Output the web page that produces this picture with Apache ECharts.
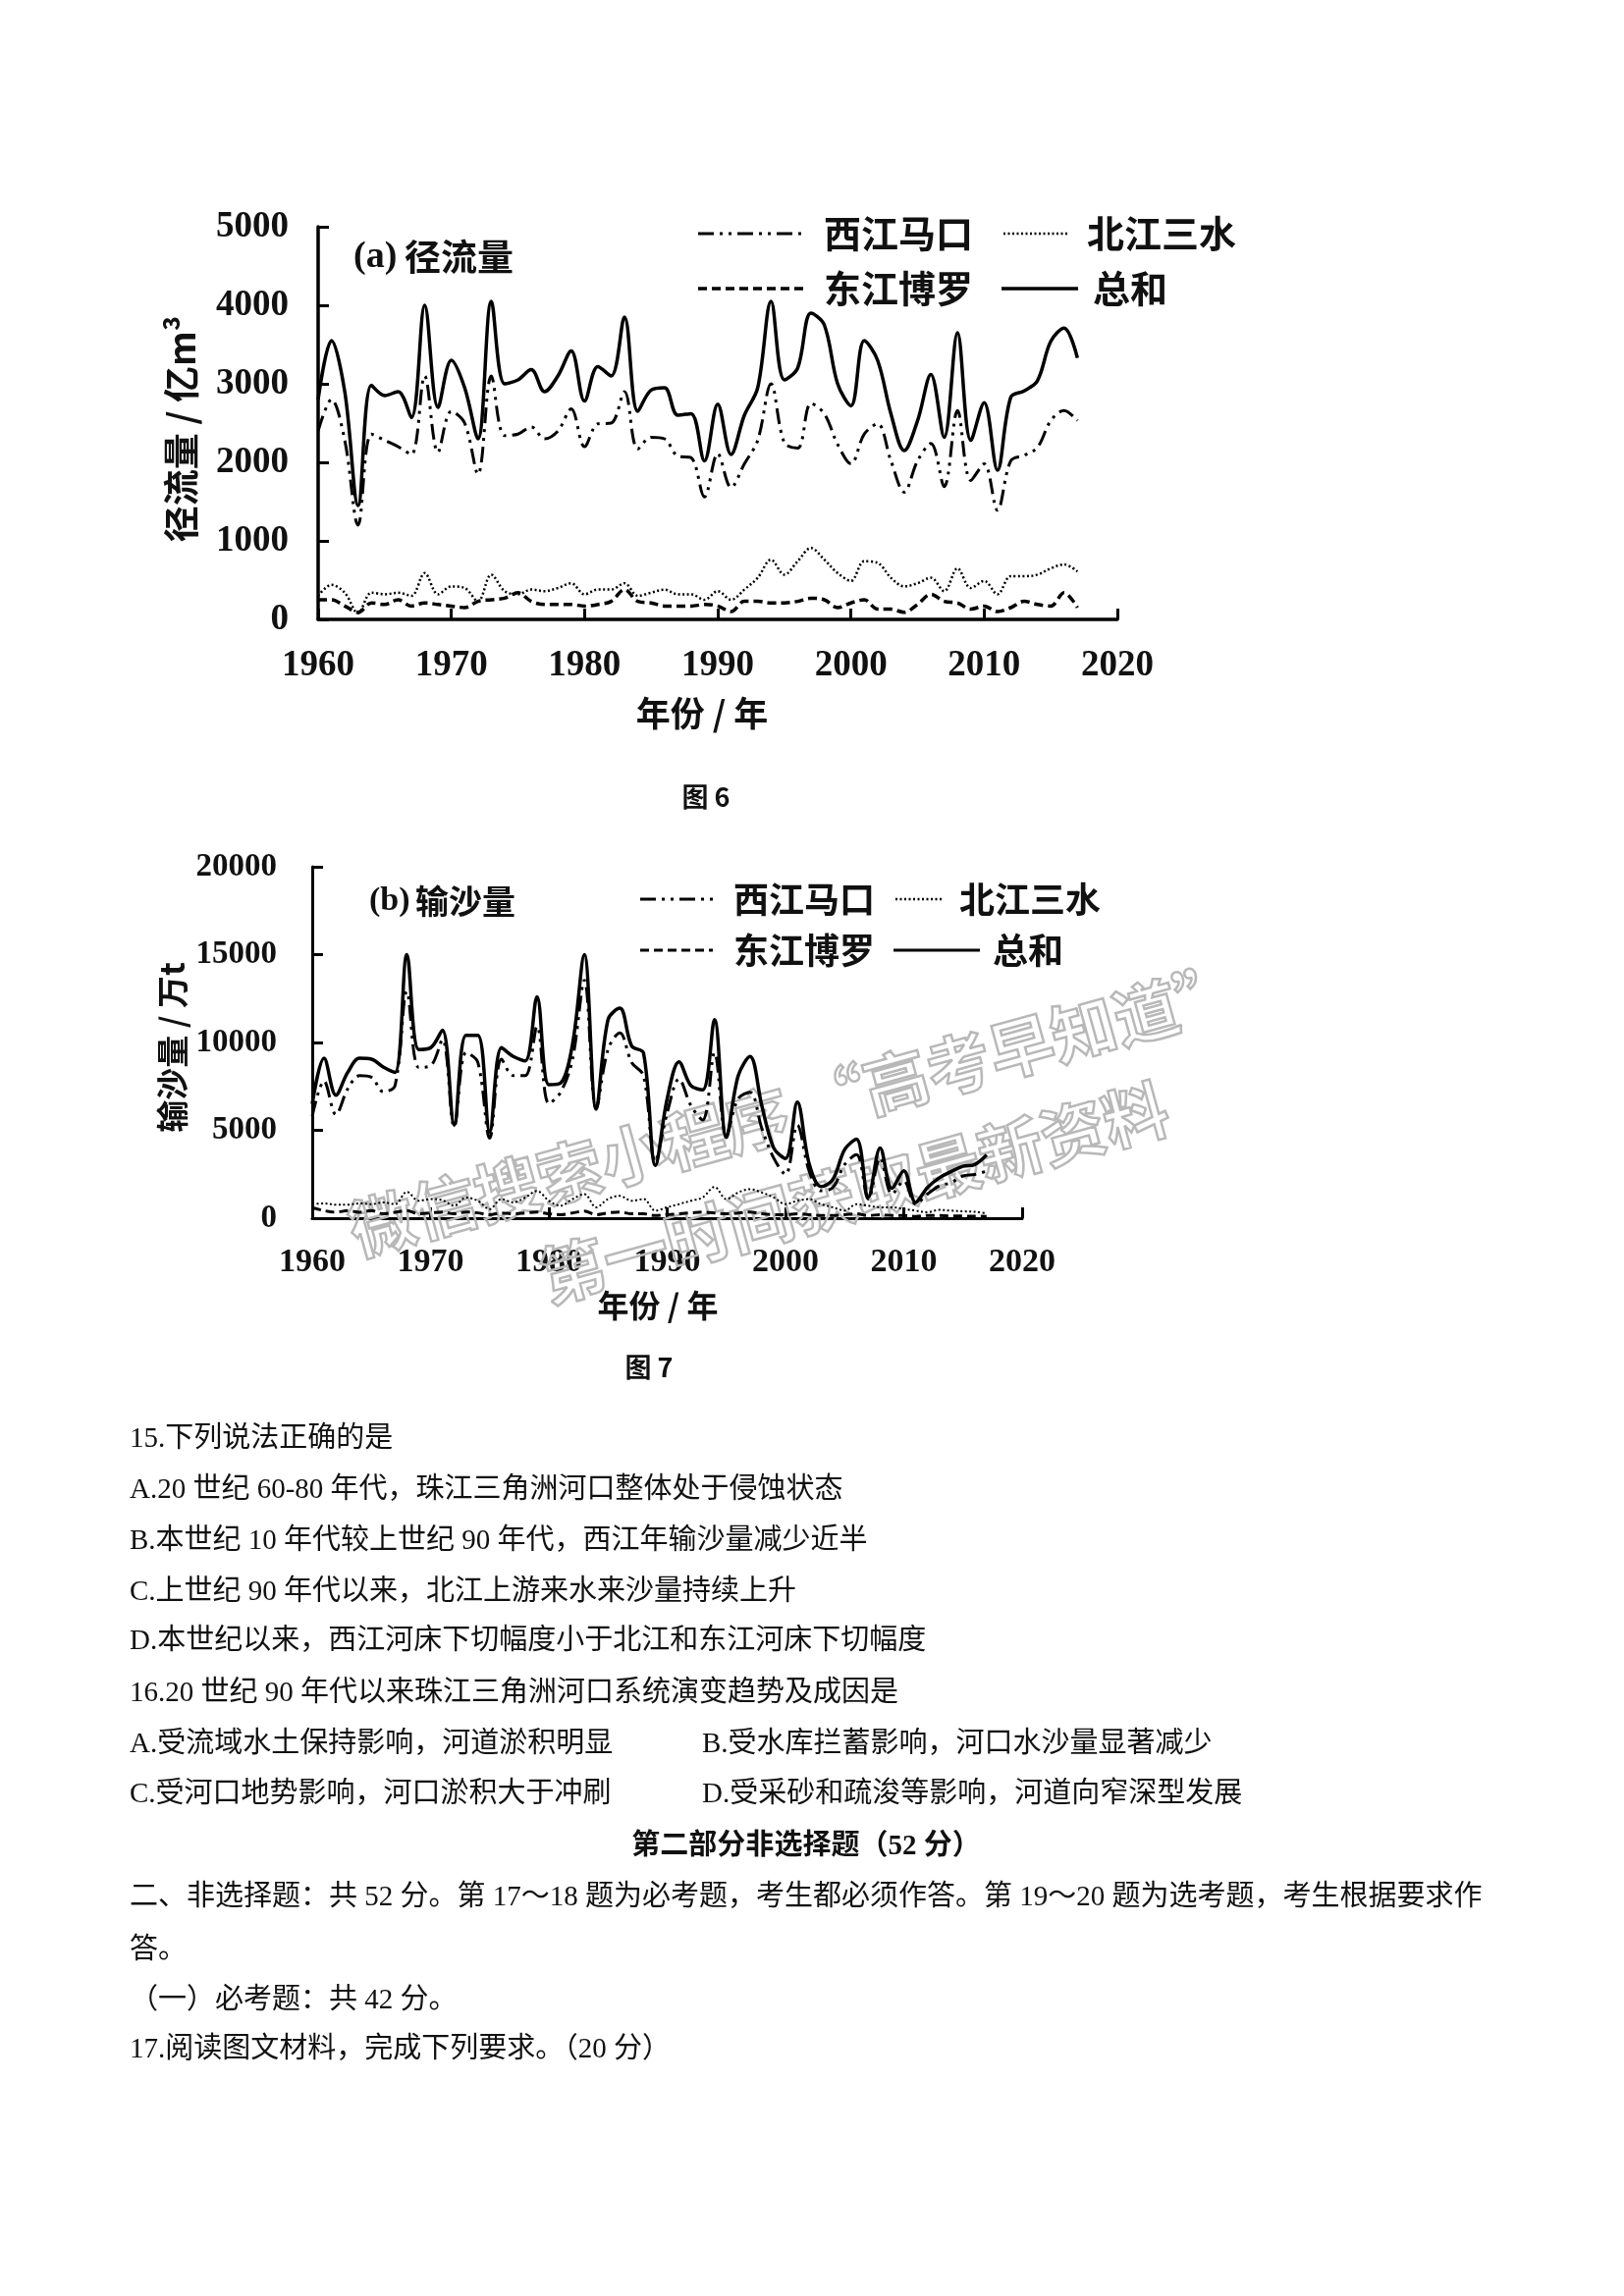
<!DOCTYPE html>
<html>
<head>
<meta charset="utf-8">
<script src="https://cdn.jsdelivr.net/npm/echarts@6/dist/echarts.min.js"></script>
<style>
html,body{margin:0;padding:0;background:#fff;}
#c{width:1654px;height:2339px;}
</style>
</head>
<body>
<div id="c"></div>
<script>
// ---------- DATA ----------
var years = [1960,1961,1962,1963,1964,1965,1966,1967,1968,1969,
             1970,1971,1972,1973,1974,1975,1976,1977,1978,1979,
             1980,1981,1982,1983,1984,1985,1986,1987,1988,1989,
             1990,1991,1992,1993,1994,1995,1996,1997,1998,1999,
             2000,2001,2002,2003,2004,2005,2006,2007,2008,2009,
             2010,2011,2012,2013,2014,2015,2016,2017];

// (a) runoff, 亿m3
var runoffTotal = [2800,3550,2900,1450,2980,2850,2900,2570,4000,2700,
                   3300,2950,2300,4050,3000,3050,3180,2900,3100,3420,
                   2780,3220,3100,3850,2650,2920,2950,2600,2620,2020,
                   2740,2100,2600,2950,4050,3050,3200,3900,3750,3000,
                   2720,3550,3300,2620,2150,2530,3120,2320,3650,2280,
                   2760,1900,2830,2910,3040,3540,3710,3330];
var runoffXi = [2400,2800,2280,1200,2360,2280,2200,2100,3100,2130,
                2650,2500,1850,3100,2340,2360,2450,2300,2400,2680,
                2200,2490,2500,2900,2170,2320,2300,2080,2060,1560,
                2110,1680,1980,2280,3000,2250,2180,2750,2620,2230,
                1980,2360,2490,2020,1620,2020,2240,1690,2660,1770,
                1980,1390,2020,2090,2190,2530,2660,2530];
var runoffBei = [300,440,340,80,340,320,340,300,590,320,
                 420,400,230,570,360,320,380,360,400,460,
                 320,380,380,460,300,340,380,320,320,250,
                 360,250,380,530,760,570,740,910,760,590,
                 490,740,720,530,420,460,530,360,650,400,
                 490,320,550,550,570,650,700,610];
var runoffDong = [250,250,170,90,210,190,250,170,210,190,
                  170,150,230,250,270,340,230,190,190,190,
                  170,190,230,380,230,210,170,170,170,190,
                  170,100,230,230,210,210,230,270,250,150,
                  210,250,130,130,90,190,320,230,210,130,
                  170,100,150,230,190,170,340,150];

// (b) sediment, 万t
var sedTotal = [6500,9100,7000,8300,9100,9050,8600,8300,15000,9600,
                9700,10700,5300,10400,10400,4900,9700,9200,8950,12600,
                7600,7700,9900,15000,6200,11300,11950,9800,9400,3000,
                6800,8900,7550,7300,11300,4600,8100,9200,6400,4000,
                3400,6600,3100,1800,2200,3900,4500,1200,4000,1700,
                2700,900,1750,2300,2650,2950,3050,3600];
var sedXi = [5800,7800,5900,7360,8110,8020,7200,7550,12900,8580,
             8670,10170,5200,9420,8860,4550,9050,8110,8110,10920,
             6520,7170,9050,13540,6240,9610,10550,8860,8110,3240,
             6000,7920,6420,5580,9420,4740,6800,7170,5110,3430,
             2490,5300,2680,1560,1740,3050,3620,1090,3430,1370,
             2120,800,1370,1840,2020,2400,2490,2680];
var sedBei = [800,840,770,770,840,800,900,800,1500,990,
              1090,1030,710,1180,990,520,1090,900,1180,1550,
              990,710,1090,1370,620,1090,1270,990,1090,430,
              620,800,990,1180,1780,1090,1460,1650,1460,1180,
              800,990,1090,800,620,430,800,710,620,620,
              520,430,340,470,430,390,360,280];
var sedDong = [600,430,340,430,340,430,250,340,430,250,
               300,350,250,350,300,200,300,250,300,350,
               250,200,300,400,200,300,350,250,250,150,
               200,250,300,350,300,250,300,350,250,200,
               200,250,200,150,150,200,250,150,200,150,
               150,100,150,150,120,120,110,100];

var seriesNames = ['西江马口','北江三水','东江博罗','总和'];
var xTicksA = [1960,2020,10];
var yTicksA = [0,5000,1000];
var yTicksB = [0,20000,5000];

var questionLines = [
  '15.下列说法正确的是',
  'A.20 世纪 60-80 年代，珠江三角洲河口整体处于侵蚀状态',
  'B.本世纪 10 年代较上世纪 90 年代，西江年输沙量减少近半',
  'C.上世纪 90 年代以来，北江上游来水来沙量持续上升',
  'D.本世纪以来，西江河床下切幅度小于北江和东江河床下切幅度',
  '16.20 世纪 90 年代以来珠江三角洲河口系统演变趋势及成因是'
];
var q16Left = ['A.受流域水土保持影响，河道淤积明显','C.受河口地势影响，河口淤积大于冲刷'];
var q16Right = ['B.受水库拦蓄影响，河口水沙量显著减少','D.受采砂和疏浚等影响，河道向窄深型发展'];
var heading = '第二部分非选择题（52 分）';
var tailLines = [
  '二、非选择题：共 52 分。第 17～18 题为必考题，考生都必须作答。第 19～20 题为选考题，考生根据要求作',
  '答。',
  '（一）必考题：共 42 分。',
  '17.阅读图文材料，完成下列要求。（20 分）'
];

// ---------- STYLE ----------
var SERIF = '"Liberation Serif","Times New Roman",serif';
var SANS = '"Noto Sans CJK SC","Noto Sans",sans-serif';
var BODY = '"Liberation Serif","Noto Sans CJK SC",serif';
var dashXi = [16,6,3,6,3,6];
var dashBei = [2,2.5];
var dashDong = [9,5];

function pairs(vals){ return years.map(function(y,i){ return [y, vals[i]]; }); }
function plain(v){ return String(v); }

function mkSeries(gi, vals, name, dash, w){
  return {
    name: name, type: 'line', xAxisIndex: gi, yAxisIndex: gi,
    data: pairs(vals), symbol: 'none', smooth: 0.35,
    lineStyle: {color: '#000', width: w, type: dash || 'solid'},
    z: 3
  };
}

function xAxisCfg(gi, fs, margin, aw){
  return {
    gridIndex: gi, type: 'value', min: xTicksA[0], max: xTicksA[1], interval: xTicksA[2],
    axisLine: {show: true, onZero: false, lineStyle: {color: '#000', width: aw}},
    axisTick: {show: true, inside: true, length: 11, lineStyle: {color: '#000', width: 3}},
    axisLabel: {color: '#111', fontFamily: SERIF, fontWeight: 'bold', fontSize: fs, margin: margin, formatter: plain},
    splitLine: {show: false}
  };
}
function yAxisCfg(gi, t, fs, margin, aw){
  return {
    gridIndex: gi, type: 'value', min: t[0], max: t[1], interval: t[2],
    axisLine: {show: true, lineStyle: {color: '#000', width: aw}},
    axisTick: {show: true, inside: true, length: 11, lineStyle: {color: '#000', width: 3}},
    axisLabel: {color: '#111', fontFamily: SERIF, fontWeight: 'bold', fontSize: fs, margin: margin, formatter: plain},
    splitLine: {show: false}
  };
}

function T(x, y, text, size, opts){
  opts = opts || {};
  return {
    type: 'text', x: x, y: y, rotation: opts.rot || 0, z: opts.z || 10,
    style: {
      text: text, fill: opts.fill || '#111',
      fontSize: size, fontFamily: opts.family || SANS, fontWeight: opts.weight || 'normal',
      textAlign: opts.align || 'left', textVerticalAlign: opts.valign || 'middle',
      stroke: opts.stroke, lineWidth: opts.lw
    }
  };
}
function L(x1, x2, y, dash, w){
  return {type: 'line', z: 10, shape: {x1: x1, y1: y, x2: x2, y2: y},
          style: {stroke: '#000', lineWidth: w, lineDash: dash}};
}

var g = [];
// ---- Figure (a) annotations ----
g.push(T(360, 262, '(a)', 38, {family: SERIF, weight: 'bold'}));
g.push(T(412, 262, '径流量', 37, {weight: 'bold'}));
g.push(L(711, 819, 238, dashXi, 3));
g.push(T(839, 238, seriesNames[0], 38, {weight: 'bold'}));
g.push(L(1022, 1087, 238, dashBei, 2.5));
g.push(T(1107, 238, seriesNames[1], 38, {weight: 'bold'}));
g.push(L(711, 819, 294, dashDong, 3.5));
g.push(T(839, 294, seriesNames[2], 38, {weight: 'bold'}));
g.push(L(1020, 1098, 294, null, 3.5));
g.push(T(1113, 294, seriesNames[3], 38, {weight: 'bold'}));
g.push(T(185, 437, '径流量 / 亿m³', 37, {weight: 'bold', rot: Math.PI/2, align: 'center'}));
g.push(T(715, 727, '年份 / 年', 35, {weight: 'bold', align: 'center'}));
g.push(T(719, 812, '图 6', 27, {weight: 'bold', align: 'center'}));

// ---- Figure (b) annotations ----
g.push(T(376, 918, '(b)', 34, {family: SERIF, weight: 'bold'}));
g.push(T(423, 918, '输沙量', 34, {weight: 'bold'}));
g.push(L(652, 726, 916, dashXi, 3));
g.push(T(747, 916, seriesNames[0], 36, {weight: 'bold'}));
g.push(L(912, 960, 916, dashBei, 2.5));
g.push(T(977, 916, seriesNames[1], 36, {weight: 'bold'}));
g.push(L(652, 726, 968, dashDong, 3));
g.push(T(747, 968, seriesNames[2], 36, {weight: 'bold'}));
g.push(L(910, 998, 968, null, 3));
g.push(T(1011, 968, seriesNames[3], 36, {weight: 'bold'}));
g.push(T(175, 1067, '输沙量 / 万t', 33, {weight: 'bold', rot: Math.PI/2, align: 'center'}));
g.push(T(670, 1330, '年份 / 年', 32, {weight: 'bold', align: 'center'}));
g.push(T(661, 1393, '图 7', 27, {weight: 'bold', align: 'center'}));

// ---- watermark ----
g.push(T(810, 1130, '微信搜索小程序 “高考早知道”', 66, {weight: 'bold', align: 'center', rot: 0.27,
        fill: 'rgba(255,255,255,0)', stroke: '#b8b8b8', lw: 2.5, z: 1}));
g.push(T(870, 1215, '第一时间获取最新资料', 66, {weight: 'bold', align: 'center', rot: 0.27,
        fill: 'rgba(255,255,255,0)', stroke: '#b8b8b8', lw: 2.5, z: 1}));

// ---- question text ----
var FS = 29;
var qY = [1466, 1518, 1570, 1622, 1672, 1725];
questionLines.forEach(function(s, i){ g.push(T(132, qY[i], s, FS, {family: BODY})); });
g.push(T(132, 1777, q16Left[0], FS, {family: BODY})); g.push(T(715, 1777, q16Right[0], FS, {family: BODY}));
g.push(T(132, 1828, q16Left[1], FS, {family: BODY})); g.push(T(715, 1828, q16Right[1], FS, {family: BODY}));
g.push(T(821, 1882, heading, FS, {weight: 'bold', align: 'center', family: BODY}));
var tY = [1933, 1987, 2038, 2088];
tailLines.forEach(function(s, i){ g.push(T(132, tY[i], s, FS, {family: BODY})); });

var option = {
  backgroundColor: '#fff',
  animation: false,
  grid: [
    {left: 324, top: 231, width: 814, height: 400},
    {left: 318, top: 883, width: 723, height: 358}
  ],
  xAxis: [xAxisCfg(0, 37, 29, 3.5), xAxisCfg(1, 34, 28, 3)],
  yAxis: [yAxisCfg(0, yTicksA, 37, 30, 3.5), yAxisCfg(1, yTicksB, 33, 36, 3)],
  series: [
    mkSeries(0, runoffXi, seriesNames[0], dashXi, 3),
    mkSeries(0, runoffBei, seriesNames[1], dashBei, 2.5),
    mkSeries(0, runoffDong, seriesNames[2], dashDong, 3.5),
    mkSeries(0, runoffTotal, seriesNames[3], 'solid', 3.5),
    mkSeries(1, sedXi, seriesNames[0], dashXi, 3),
    mkSeries(1, sedBei, seriesNames[1], dashBei, 2),
    mkSeries(1, sedDong, seriesNames[2], dashDong, 3),
    mkSeries(1, sedTotal, seriesNames[3], 'solid', 3.5)
  ],
  graphic: {elements: g}
};

var chart = echarts.init(document.getElementById('c'), null, {renderer: 'canvas', width: 1654, height: 2339});
chart.setOption(option);
</script>
</body>
</html>
